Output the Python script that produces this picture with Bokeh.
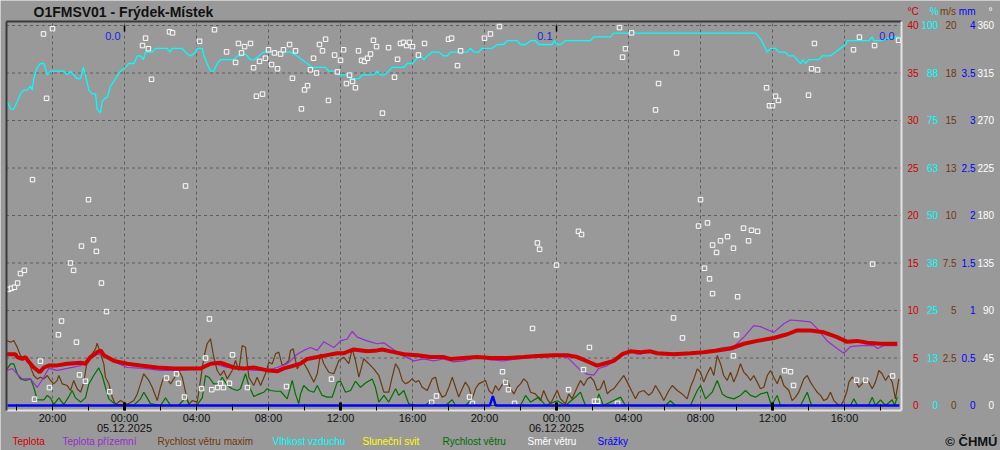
from bokeh.plotting import figure
from bokeh.models import Range1d, LinearAxis, FixedTicker, Label
from bokeh.core.properties import value
from bokeh.embed import file_html
from bokeh.resources import INLINE

# ------------------------------------------------------------------ data
# time = hours from 05.12.2025 00:00
TITLE = "O1FMSV01 - Frýdek-Místek"

TEMP = [(-6.52,5.4),(-6.06,5.4),(-5.96,5.1),(-5.68,4.9),(-5.5,5.1),(-5.32,4.6),(-5.04,4.0),(-4.71,3.5),(-4.48,4.0),(-4.21,4.2),
        (-3.83,4.2),(-3.18,4.4),(-2.44,4.5),(-2.17,4.4),(-1.89,5.1),(-1.52,5.6),(-1.33,5.8),(-1.15,5.3),(-0.59,4.7),(0.15,4.4),
        (0.89,4.2),(1.82,4.0),(2.74,3.9),(4.22,3.9),(4.78,4.4),(5.33,4.5),(6.07,4.0),(6.63,3.9),(7.18,4.0),(7.93,3.7),
        (8.48,3.6),(8.85,3.9),(9.22,4.1),(9.78,4.4),(10.15,4.9),(10.71,5.1),(11.26,5.3),(11.82,5.5),(12.18,5.5),(12.74,5.9),
        (13.48,5.7),(14.04,5.8),(14.32,5.9),(14.78,5.7),(15.52,5.4),(16.26,5.3),(17.0,5.1),(17.74,5.1),(18.11,4.9),(18.85,5.0),
        (19.59,5.1),(20.33,5.0),(21.26,5.0),(22.18,5.1),(22.93,5.2),(23.85,5.3),(24.59,5.3),(25.15,5.1),(25.52,4.8),(25.89,4.5),
        (26.26,4.2),(26.82,4.5),(27.18,4.7),(27.65,5.4),(28.11,5.7),(28.67,5.6),(29.22,5.7),(29.59,5.5),(30.52,5.4),(31.44,5.5),
        (32.18,5.6),(32.93,5.8),(33.67,6.0),(34.41,6.5),(35.15,6.8),(36.07,7.1),(36.82,7.5),(37.37,7.9),(38.11,7.9),(38.85,7.7),
        (39.59,7.2),(40.15,6.7),(40.7,6.8),(41.26,6.6),(42.0,6.5),(42.93,6.5)]

GROUND = [(-6.52,3.7),(-6.24,3.9),(-5.96,3.3),(-5.68,2.8),(-5.22,2.8),(-4.85,1.9),(-4.48,3.0),(-4.21,3.9),(-3.74,3.7),(-3.18,3.9),
          (-2.44,4.2),(-2.07,4.7),(-1.52,5.4),(-1.15,5.3),(-0.59,4.6),(0.15,4.0),(1.07,3.9),(2.0,3.7),(3.11,3.7),(4.22,3.9),
          (4.96,4.4),(5.71,4.0),(6.44,3.9),(7.18,3.7),(7.93,3.7),(8.48,4.0),(9.04,4.4),(9.22,4.7),(9.59,5.4),(9.96,5.8),
          (10.33,6.1),(10.71,5.8),(11.07,6.7),(11.26,6.5),(11.63,6.1),(12.0,6.8),(12.37,7.0),(12.65,7.8),(12.93,7.2),(13.48,6.8),
          (14.04,6.5),(14.41,6.6),(14.78,6.1),(15.33,5.4),(16.07,4.7),(16.63,4.9),(17.18,4.7),(17.74,4.9),(18.29,4.6),(18.85,4.7),
          (19.59,5.1),(20.33,4.8),(21.07,4.7),(21.82,4.9),(22.56,5.1),(23.29,5.1),(24.04,5.2),(24.59,5.1),(24.96,4.4),(25.33,3.7),
          (25.71,3.3),(26.07,3.2),(26.35,3.9),(26.82,4.2),(27.18,4.6),(27.65,5.3),(28.11,5.7),(28.48,5.4),(28.67,5.4),(29.04,5.7),
          (29.59,5.5),(31.44,5.5),(32.37,5.7),(33.29,6.1),(33.85,6.2),(34.41,7.2),(34.96,8.4),(35.33,8.3),(36.07,7.7),(36.63,8.6),
          (37.0,9.0),(37.56,8.9),(38.11,8.8),(38.48,8.1),(39.04,6.8),(39.59,6.0),(39.96,5.5),(40.33,6.2),(40.89,6.3),(41.63,6.3),
          (41.82,6.0),(42.19,6.3),(42.93,6.3)]

HUMIDITY = [(-6.52,80),(-6.33,78),(-6.15,78),(-5.96,80),(-5.78,82),(-5.59,83),(-5.41,83),(-5.22,84),(-5.13,83),(-5.04,86),
            (-4.85,89),(-4.67,90),(-4.48,90),(-4.29,87),(-4.11,88),(-3.37,88),(-3.18,87),(-3.0,88),(-2.63,86),(-2.44,86),
            (-2.29,89),(-2.17,87),(-1.98,83),(-1.79,82),(-1.61,82),(-1.52,78),(-1.33,77),(-1.24,80),(-1.06,81),(-0.96,81),
            (-0.78,84),(-0.5,86),(-0.22,88),(0.06,89),(0.24,90),(0.52,90),(0.71,92),(0.89,92),(1.04,91),(1.17,93),
            (1.54,93),(1.72,94),(2.37,94),(2.52,93),(2.65,94),(3.21,94),(3.48,92.5),(3.67,92),(3.94,93),(4.04,94),
            (4.32,94),(4.41,92),(4.59,90),(4.78,88),(4.96,88),(5.15,90),(5.33,91),(6.07,91),(6.26,92),(6.44,92),
            (6.72,92.5),(7.0,91),(7.18,91),(7.46,92),(7.74,93),(9.22,93),(9.59,92),(9.87,91),(10.15,90),(10.43,89),
            (11.17,89),(11.35,88),(11.72,88),(11.91,87),(12.37,87),(12.56,86),(13.02,86),(13.21,87),(13.85,87),(14.04,88),
            (14.22,87),(14.41,87),(14.68,88),(14.87,89),(15.52,89),(15.71,90),(15.98,90),(16.17,91),(16.44,92),(16.63,91),
            (16.82,92),(17.09,93),(17.46,93),(17.74,92),(17.93,92),(18.11,93),(19.04,93),(19.22,94),(19.41,93),(19.68,93),
            (19.87,94),(20.43,94),(20.71,95),(21.07,95),(21.26,96),(21.82,96),(22.0,95),(22.28,95),(22.56,96),(22.83,96),
            (23.02,95),(23.76,95),(23.89,96),(24.04,95),(24.22,95),(24.5,96),(25.89,96),(26.07,97),(27.0,97),(27.18,98),
            (35.06,98),(35.33,96.5),(35.61,94),(35.71,93),(35.89,94),(36.17,94),(36.35,93),(36.72,93),(36.91,92),(37.18,92),
            (37.56,90),(37.71,91),(37.83,90),(38.02,91),(38.57,91),(38.76,92),(39.22,92),(39.5,93),(39.78,94),(40.06,95),
            (40.15,96),(41.35,96),(41.54,97),(41.63,96),(42.0,96),(42.74,97),(43.02,97)]

GUST = [(-6.52,3.42),(-6.33,3.33),(-6.15,3.42),(-5.96,3.07),(-5.78,2.63),(-5.59,2.46),(-5.41,2.54),(-5.22,2.02),(-5.04,1.58),(-4.85,1.4),
        (-4.67,1.49),(-4.48,1.4),(-4.29,1.58),(-4.11,1.32),(-3.93,1.14),(-3.74,1.32),(-3.65,1.58),(-3.46,1.14),(-3.18,1.05),(-3.0,0.79),
        (-2.82,1.32),(-2.63,0.88),(-2.44,0.7),(-2.26,1.23),(-2.07,2.37),(-1.79,2.72),(-1.61,2.98),(-1.52,3.28),(-1.33,2.72),(-1.15,2.19),
        (-1.06,1.49),(-0.87,1.14),(-0.68,0.44),(-0.5,0.05),(-0.22,0.26),(0.15,0.05),(0.52,0.26),(0.71,0.61),(0.89,1.14),(1.07,1.67),
        (1.35,1.32),(1.54,0.96),(1.82,0.26),(2.0,0.96),(2.18,1.49),(2.37,1.4),(2.56,1.14),(2.74,1.4),(3.02,1.84),(3.21,1.49),
        (3.39,0.7),(3.57,0.05),(3.76,0.26),(4.04,0.18),(4.22,1.32),(4.41,2.54),(4.59,3.25),(4.78,3.51),(4.96,2.54),(5.15,1.84),
        (5.33,1.58),(5.52,1.84),(5.71,1.4),(5.98,1.84),(6.17,2.37),(6.35,1.84),(6.54,3.16),(6.72,3.07),(6.91,1.49),(7.18,1.05),
        (7.37,1.49),(7.56,1.05),(7.83,1.67),(8.02,2.28),(8.21,2.19),(8.39,2.72),(8.57,2.81),(8.76,2.11),(8.94,2.19),(9.13,2.37),
        (9.22,2.89),(9.37,2.98),(9.5,2.37),(9.59,1.93),(9.87,2.37),(10.15,1.93),(10.33,1.58),(10.52,1.23),(10.71,1.67),(10.89,2.72),
        (11.07,2.2),(11.35,1.75),(11.63,1.67),(11.91,2.37),(12.18,2.54),(12.46,2.2),(12.65,2.98),(12.83,2.37),(13.02,1.49),(13.29,2.46),
        (13.57,2.2),(13.85,1.93),(14.13,1.58),(14.41,0.7),(14.68,0.7),(14.87,1.49),(15.06,2.2),(15.24,1.93),(15.43,1.32),(15.61,1.14),
        (15.79,1.23),(15.98,1.4),(16.17,1.23),(16.35,1.32),(16.54,0.96),(16.82,0.79),(17.09,1.4),(17.28,1.49),(17.46,0.79),(17.65,0.44),
        (17.83,0.53),(18.02,0.96),(18.21,1.49),(18.39,0.96),(18.57,0.44),(18.76,0.88),(18.94,1.23),(19.13,0.96),(19.32,0.35),(19.5,0.88),
        (19.68,1.14),(19.87,1.23),(20.06,1.32),(20.24,0.79),(20.43,0.61),(20.61,1.05),(20.79,0.79),(21.07,1.23),(21.26,1.4),(21.44,0.88),
        (21.63,0.61),(21.82,0.96),(22.0,1.14),(22.18,1.4),(22.37,1.23),(22.56,0.7),(22.83,0.61),(23.11,0.26),(23.29,0.79),(23.48,0.35),
        (23.67,0.09),(23.85,0.44),(24.04,0.79),(24.22,0.35),(24.5,0.09),(24.68,0.61),(24.87,0.35),(25.15,0.96),(25.33,1.32),(25.52,1.05),
        (25.71,1.4),(25.89,1.5),(26.07,1.3),(26.26,0.8),(26.44,0.88),(26.63,1.32),(26.82,0.61),(27.0,0.79),(27.18,0.88),(27.46,1.23),
        (27.74,1.58),(27.93,1.23),(28.21,0.7),(28.39,0.35),(28.57,0.7),(28.85,0.79),(29.13,0.53),(29.32,0.7),(29.5,1.05),(29.78,0.61),
        (29.96,0.26),(30.24,0.79),(30.43,1.05),(30.71,0.79),(30.98,0.61),(31.26,0.35),(31.44,0.96),(31.63,1.4),(31.82,1.93),(32.0,1.75),
        (32.18,1.23),(32.37,1.67),(32.56,2.02),(32.74,1.58),(32.93,2.63),(33.11,2.2),(33.29,1.58),(33.48,1.32),(33.67,1.75),(33.85,1.23),
        (34.04,1.67),(34.22,2.2),(34.41,1.75),(34.59,1.58),(34.78,1.32),(34.96,1.58),(35.15,1.23),(35.33,0.88),(35.52,0.96),(35.71,1.58),
        (35.89,1.84),(36.07,1.49),(36.26,1.14),(36.44,1.58),(36.63,1.05),(36.91,0.79),(37.09,0.26),(37.28,0.44),(37.46,0.7),(37.74,1.4),
        (37.93,1.58),(38.11,1.23),(38.29,0.96),(38.48,0.7),(38.67,0.53),(38.85,0.26),(39.04,0.35),(39.22,0.7),(39.41,0.26),(39.59,0.09),
        (39.78,0.0),(39.96,0.26),(40.15,0.79),(40.24,1.23),(40.43,1.49),(40.61,1.32),(40.79,0.96),(40.98,1.14),(41.17,1.49),(41.35,1.23),
        (41.54,0.88),(41.72,1.23),(41.91,1.84),(42.09,1.67),(42.28,1.32),(42.46,1.58),(42.65,1.23),(42.83,0.35),(43.02,1.4)]

WIND = [(-6.52,1.93),(-6.33,2.19),(-6.15,2.19),(-5.96,1.67),(-5.78,1.4),(-5.5,1.32),(-5.22,1.4),(-5.04,0.96),(-4.85,0.3),(-4.48,0.3),
        (-4.29,0.53),(-4.11,0.4),(-3.93,0.05),(-3.65,0.4),(-3.37,0.05),(-3.09,0.47),(-2.91,0.79),(-2.72,0.4),(-2.44,0.18),(-2.17,0.4),
        (-1.98,1.14),(-1.71,1.58),(-1.43,1.98),(-1.24,1.58),(-1.06,0.96),(-0.87,0.35),(-0.5,0.05),(0.15,0.05),(0.5,0.0),(0.89,0.35),
        (1.07,0.7),(1.26,0.4),(1.44,0.1),(2.0,0.0),(2.28,0.4),(2.56,0.0),(3.0,0.0),(3.39,0.4),(3.67,0.0),(4.04,0.05),
        (4.32,0.4),(4.5,1.58),(4.68,1.49),(4.96,1.14),(5.24,1.14),(5.43,1.49),(5.71,1.05),(5.98,0.88),(6.26,0.79),(6.44,0.88),
        (6.72,1.67),(6.91,1.05),(7.18,0.47),(7.46,0.6),(7.74,0.7),(7.93,0.88),(8.11,0.79),(8.39,0.75),(8.67,0.75),(9.04,0.35),
        (9.32,1.32),(9.5,0.6),(9.68,0.1),(9.78,0.61),(9.96,1.05),(10.24,0.79),(10.52,0.7),(10.71,1.05),(10.98,0.53),(11.26,0.44),
        (11.54,0.44),(11.82,1.23),(12.0,1.28),(12.28,0.7),(12.56,0.79),(12.83,1.28),(13.11,0.96),(13.39,1.18),(13.76,1.4),(13.94,0.96),
        (14.13,0.18),(14.41,0.53),(14.68,0.18),(15.06,0.88),(15.24,0.53),(15.52,0.79),(15.79,0.09),(16.17,0.0),(16.72,0.0),(17.0,0.26),
        (17.28,0.0),(17.83,0.0),(18.21,0.3),(18.39,0.0),(18.94,0.0),(19.22,0.25),(19.5,0.0),(22.0,0.0),(22.28,0.53),(22.56,0.18),
        (23.02,0.44),(23.39,0.0),(24.04,0.25),(24.5,0.0),(25.15,0.53),(25.33,0.7),(25.61,0.0),(26.17,0.0),(26.35,0.61),(26.61,0.0),
        (27.56,0.44),(27.83,0.0),(30.06,0.0),(30.33,0.25),(30.61,0.0),(31.44,0.0),(31.82,0.79),(32.0,1.05),(32.28,0.35),(32.65,0.7),
        (32.93,1.32),(33.21,0.61),(33.48,0.44),(33.85,0.35),(34.22,0.53),(34.5,0.79),(34.78,0.53),(35.06,0.44),(35.33,0.61),(35.71,0.7),
        (35.94,0.0),(36.26,0.53),(36.44,0.0),(37.56,0.0),(37.93,0.7),(38.17,0.0),(40.33,0.0),(40.52,0.35),(40.72,0.0),(41.33,0.0),
        (41.54,0.44),(41.72,0.0),(42.0,0.3),(42.28,0.0),(42.65,0.3),(42.78,0.0),(42.93,0.44)]

WIND_DIR = [(-6.44,110),(-6.28,111),(-6.11,112),(-5.94,116),(-5.78,125),(-5.56,128),(-5.11,214),(-5.0,6),(-4.67,42),(-4.5,352),
            (-4.33,291),(-4.17,17),(-4.0,357),(-3.67,67),(-3.5,80),(-3.0,135),(-2.83,128),(-2.67,60),(-2.5,29),(-2.39,151),
            (-2.17,23),(-2.0,195),(-1.72,157),(-1.56,146),(-1.28,116),(-1.0,89),(-0.83,13),(1.0,341),(1.17,348),(1.33,338),
            (1.5,309),(2.33,26),(2.5,354),(2.67,353),(2.89,30),(3.0,21),(3.33,8),(3.39,208),(4.17,345),(4.28,16),
            (4.5,45),(4.72,82),(4.85,15),(5.0,356),(5.17,17),(5.33,21),(5.5,17),(5.67,335),(5.83,21),(6.0,48),
            (6.17,325),(6.33,343),(6.5,334),(6.67,340),(6.83,17),(7.0,343),(7.17,320),(7.33,293),(7.5,326),(7.67,295),
            (7.83,329),(8.0,337),(8.17,323),(8.33,334),(8.5,319),(8.67,333),(8.83,337),(9.0,18),(9.17,342),(9.33,310),
            (9.5,336),(9.83,281),(10.0,299),(10.17,303),(10.33,318),(10.5,329),(10.67,315),(10.83,342),(11.0,336),(11.17,347),
            (11.33,289),(11.5,25),(11.67,332),(11.83,316),(12.0,327),(12.17,337),(12.33,305),(12.5,313),(12.67,307),(12.83,301),
            (13.0,336),(13.17,327),(13.33,326),(13.5,329),(13.67,333),(13.83,346),(14.0,340),(14.33,277),(14.67,339),(15.0,311),
            (15.17,328),(15.33,343),(15.5,344),(15.67,341),(15.83,344),(16.0,340),(16.33,332),(16.67,343),(17.06,3),(17.33,9),
            (18.0,347),(18.17,348),(18.5,322),(18.67,336),(19.17,8),(19.33,2),(20.0,348),(20.33,352),(20.83,359),(21.0,32),
            (21.17,22),(21.33,15),(21.67,2),(22.67,73),(22.94,154),(23.06,148),(24.0,133),(24.67,15),(25.22,165),(25.39,162),
            (25.5,34),(25.83,55),(26.11,4),(26.28,4),(27.39,2),(27.5,358),(27.67,330),(27.83,338),(28.17,353),(29.5,280),
            (29.67,305),(30.5,83),(30.67,334),(31.0,64),(31.89,170),(32.0,195),(32.22,130),(32.39,173),(32.5,120),(32.67,152),
            (32.67,106),(32.89,145),(33.11,156),(33.5,160),(33.83,149),(33.83,47),(34.0,67),(34.06,103),(34.39,168),(34.67,156),
            (34.83,166),(35.17,165),(35.67,301),(35.83,284),(36.0,284),(36.17,293),(36.33,289),(36.67,33),(37.0,32),(37.17,19),
            (38.0,294),(38.17,319),(38.33,343),(38.5,318),(40.5,337),(40.67,24),(40.83,349),(41.17,24),(41.56,134),(41.67,341),
            (42.67,28),(43.0,346)]

PRECIP = [(-6.5,0.0),(20.3,0.0),(20.46,0.1),(20.62,0.0),(43.05,0.0)]
PRECIP_DAY_END = [0.0, 24.0, 43.0]
PRECIP_DAY_SUM = [0.0, 0.1, 0.0]

TIME_TICKS = [-4, 0, 4, 8, 12, 16, 20, 24, 28, 32, 36, 40]
TIME_LABELS = ["20:00", "00:00", "04:00", "08:00", "12:00", "16:00",
               "20:00", "00:00", "04:00", "08:00", "12:00", "16:00"]
MINOR_TICKS = [-6, -2, 2, 6, 10, 14, 18, 22, 26, 30, 34, 38, 42]
BOLD_TICKS = [0, 12, 24, 36]
DAY_TICKS = [0, 24]
DAY_LABELS = ["05.12.2025", "06.12.2025"]

TEMP_TICKS = [0, 5, 10, 15, 20, 25, 30, 35, 40]
TEMP_LABELS = ["0", "5", "10", "15", "20", "25", "30", "35", "40"]
HUM_TICKS = [0, 12.5, 25, 37.5, 50, 62.5, 75, 87.5, 100]
HUM_LABELS = ["0", "13", "25", "38", "50", "63", "75", "88", "100"]
WIND_TICKS = [0, 2.5, 5, 7.5, 10, 12.5, 15, 17.5, 20]
WIND_LABELS = ["0", "2.5", "5", "7.5", "10", "13", "15", "18", "20"]
MM_TICKS = [0, 0.5, 1, 1.5, 2, 2.5, 3, 3.5, 4]
MM_LABELS = ["0", "0.5", "1", "1.5", "2", "2.5", "3", "3.5", "4"]
DIR_TICKS = [0, 45, 90, 135, 180, 225, 270, 315, 360]
DIR_LABELS = ["0", "45", "90", "135", "180", "225", "270", "315", "360"]

LEGEND = [("Teplota", "#d00000"), ("Teplota přízemní", "#9a2bd0"), ("Rychlost větru maxim", "#6b3a0e"),
          ("Vlhkost vzduchu", "#00ffff"), ("Sluneční svit", "#ffff00"), ("Rychlost větru", "#006a00"),
          ("Směr  větru", "#ffffff"), ("Srážky", "#0000ff")]

# ------------------------------------------------------------------ layout
BG = "#999999"
GRID = "#5e5e5e"
DARK = "#3a3a3a"
LIGHT = "#e4e4e4"
FONT = "Liberation Sans"
W, H = 1000, 450
X0_PX, PX_PER_H = 124.0, 18.0     # canvas x of 05.12. 00:00, px per hour
Y0_PX, PX_PER_C = 405.0, 9.5      # canvas y of 0 degC, px per degC


def hx(px):
    return (px - X0_PX) / PX_PER_H


def vy(py):
    return (Y0_PX - py) / PX_PER_C


LEGEND_PX = [12, 62, 157, 272, 362, 442, 527, 597]

FRAME_L, FRAME_R = hx(5.5), hx(900.5)
FRAME_T, FRAME_B = vy(20.5), vy(409.5)

y0, y1 = vy(H), vy(0)
p = figure(width=W, height=H, output_backend="svg", toolbar_location=None,
           x_axis_location=None, y_axis_location=None,
           x_range=Range1d(hx(0), hx(W)), y_range=Range1d(y0, y1),
           min_border=0, background_fill_color=BG, border_fill_color=BG,
           outline_line_color=None)
p.grid.visible = False
p.extra_y_ranges = {
    "hum": Range1d(y0 * 2.5, y1 * 2.5),
    "wind": Range1d(y0 * 0.5, y1 * 0.5),
    "mm": Range1d(y0 * 0.1, y1 * 0.1),
    "dir": Range1d(y0 * 9.0, y1 * 9.0),
}

# grid lines
n = len(TIME_TICKS)
p.segment(x0=TIME_TICKS, x1=TIME_TICKS, y0=[vy(404)] * n, y1=[FRAME_T] * n,
          line_color=GRID, line_width=1, line_dash="3 3")
hg = TEMP_TICKS[1:]
p.segment(x0=[FRAME_L] * len(hg), x1=[FRAME_R] * len(hg), y0=hg, y1=hg,
          line_color=GRID, line_width=1, line_dash="3 3")


def unz(pairs):
    return [a for a, b in pairs], [b for a, b in pairs]


# series
t, v = unz(HUMIDITY)
p.line(t, v, y_range_name="hum", line_color="#00ffff", line_width=1.3)
t, v = unz(GUST)
p.line(t, v, y_range_name="wind", line_color="#6b3a0e", line_width=1.2)
t, v = unz(WIND)
p.line(t, v, y_range_name="wind", line_color="#007000", line_width=1.2)
t, v = unz(GROUND)
p.line(t, v, line_color="#9a2bd0", line_width=1.2)
t, v = unz(TEMP)
p.line(t, v, line_color="#d00000", line_width=4)
t, v = unz(WIND_DIR)
p.scatter(t, v, y_range_name="dir", marker="square", size=4.5, fill_color=BG,
          line_color="white", line_width=1)
t, v = unz(PRECIP)
p.line(t, v, y_range_name="mm", line_color="#0000ff", line_width=2.5)

# daily precipitation sums
p.text(x=PRECIP_DAY_END, y=[vy(35.5)] * len(PRECIP_DAY_END),
       text=["%.1f" % s for s in PRECIP_DAY_SUM], x_offset=-4,
       text_align="right", text_baseline="middle", text_color="#1e1ee6",
       text_font=value(FONT), text_font_size="11px")
nd = len(DAY_TICKS)
p.segment(x0=DAY_TICKS, x1=DAY_TICKS, y0=[vy(25)] * nd, y1=[vy(31)] * nd,
          line_color="black", line_width=1.5)


# frame lines (as axes)
def frame_axis(side, loc, bounds, color):
    ax = LinearAxis(fixed_location=loc, bounds=bounds, ticker=FixedTicker(ticks=[]),
                    axis_line_color=color, axis_line_width=2,
                    major_tick_line_color=None, minor_tick_line_color=None,
                    major_label_text_font_size="0px")
    p.add_layout(ax, side)


frame_axis("above", FRAME_T, (FRAME_L, FRAME_R), DARK)
frame_axis("left", FRAME_L, (FRAME_B, FRAME_T), DARK)
frame_axis("right", FRAME_R, (FRAME_B, FRAME_T), LIGHT)

# time axis
tax = LinearAxis(fixed_location=FRAME_B, bounds=(FRAME_L, FRAME_R),
                 ticker=FixedTicker(ticks=TIME_TICKS, minor_ticks=MINOR_TICKS),
                 major_label_overrides=dict(zip(TIME_TICKS, TIME_LABELS)),
                 axis_line_color=LIGHT, axis_line_width=2,
                 major_tick_in=6, major_tick_out=0, minor_tick_in=6, minor_tick_out=0,
                 major_tick_line_color="black", minor_tick_line_color="black",
                 major_label_standoff=2, major_label_text_font=FONT,
                 major_label_text_font_size="11px", major_label_text_color="#111111")
p.add_layout(tax, "below")
bax = LinearAxis(fixed_location=FRAME_B, ticker=FixedTicker(ticks=BOLD_TICKS),
                 major_label_overrides={t_: "" for t_ in BOLD_TICKS},
                 axis_line_color=None, major_tick_in=8, major_tick_out=0,
                 major_tick_line_color="black", major_tick_line_width=3,
                 minor_tick_line_color=None)
p.add_layout(bax, "below")
dax = LinearAxis(fixed_location=FRAME_B, ticker=FixedTicker(ticks=DAY_TICKS),
                 major_label_overrides=dict(zip(DAY_TICKS, DAY_LABELS)),
                 axis_line_color=None, major_tick_in=0, major_tick_out=0,
                 major_tick_line_color=None, minor_tick_line_color=None,
                 major_label_standoff=14, major_label_text_font=FONT,
                 major_label_text_font_size="11px", major_label_text_color="#111111")
p.add_layout(dax, "below")

# right-hand scales
FIG_SP, PUN_SP = "\u2007", "\u2008"


def pad(lbl, digits):
    w = sum(2 if c.isdigit() else 1 for c in lbl)
    d = max(digits * 2 - w, 0)
    return FIG_SP * (d // 2) + PUN_SP * (d % 2) + lbl


HDR_Y = vy(11)
scales = [
    (None, 1.0, TEMP_TICKS, TEMP_LABELS, 2, "°C", "#d00000", 907.0),
    ("hum", 2.5, HUM_TICKS, HUM_LABELS, 3, FIG_SP + PUN_SP + "%", "#00ffff", 921.0),
    ("wind", 0.5, WIND_TICKS, WIND_LABELS, 3, "m/s", "#6b3a0e", 939.5),
    ("mm", 0.1, MM_TICKS, MM_LABELS, 3, "mm", "#0000ff", 958.3),
    ("dir", 9.0, DIR_TICKS, DIR_LABELS, 3, FIG_SP * 2 + "°", "#ffffff", 977.0),
]
for rname, fac, ticks, labels, digits, hdr, col, px in scales:
    hv = HDR_Y * fac
    over = {tk: pad(lb, digits) for tk, lb in zip(ticks, labels)}
    over[hv] = hdr
    kw = dict(y_range_name=rname) if rname else {}
    ax = LinearAxis(fixed_location=hx(px), ticker=FixedTicker(ticks=list(ticks) + [hv]),
                    major_label_overrides=over, axis_line_color=None,
                    major_tick_line_color=None, minor_tick_line_color=None,
                    major_tick_in=0, major_tick_out=0, major_label_standoff=0,
                    major_label_text_font=FONT, major_label_text_font_size="10px",
                    major_label_text_color=col, **kw)
    p.add_layout(ax, "right")

# title, legend, copyright
p.add_layout(Label(x=hx(33), y=vy(11.5), text=TITLE, text_font=FONT, text_font_size="14px",
                   text_font_style="bold", text_color="#111111", text_baseline="middle"))
for (txt, col), px in zip(LEGEND, LEGEND_PX):
    p.add_layout(Label(x=hx(px), y=vy(440.5), text=txt, text_font=FONT, text_font_size="10px",
                       text_color=col, text_baseline="middle"))
p.add_layout(Label(x=hx(997), y=vy(440.5), text="© ČHMÚ", text_font=FONT, text_font_size="13px",
                   text_font_style="bold", text_color="#111111", text_align="right",
                   text_baseline="middle"))

open("out.html", "w").write(file_html(p, INLINE))
